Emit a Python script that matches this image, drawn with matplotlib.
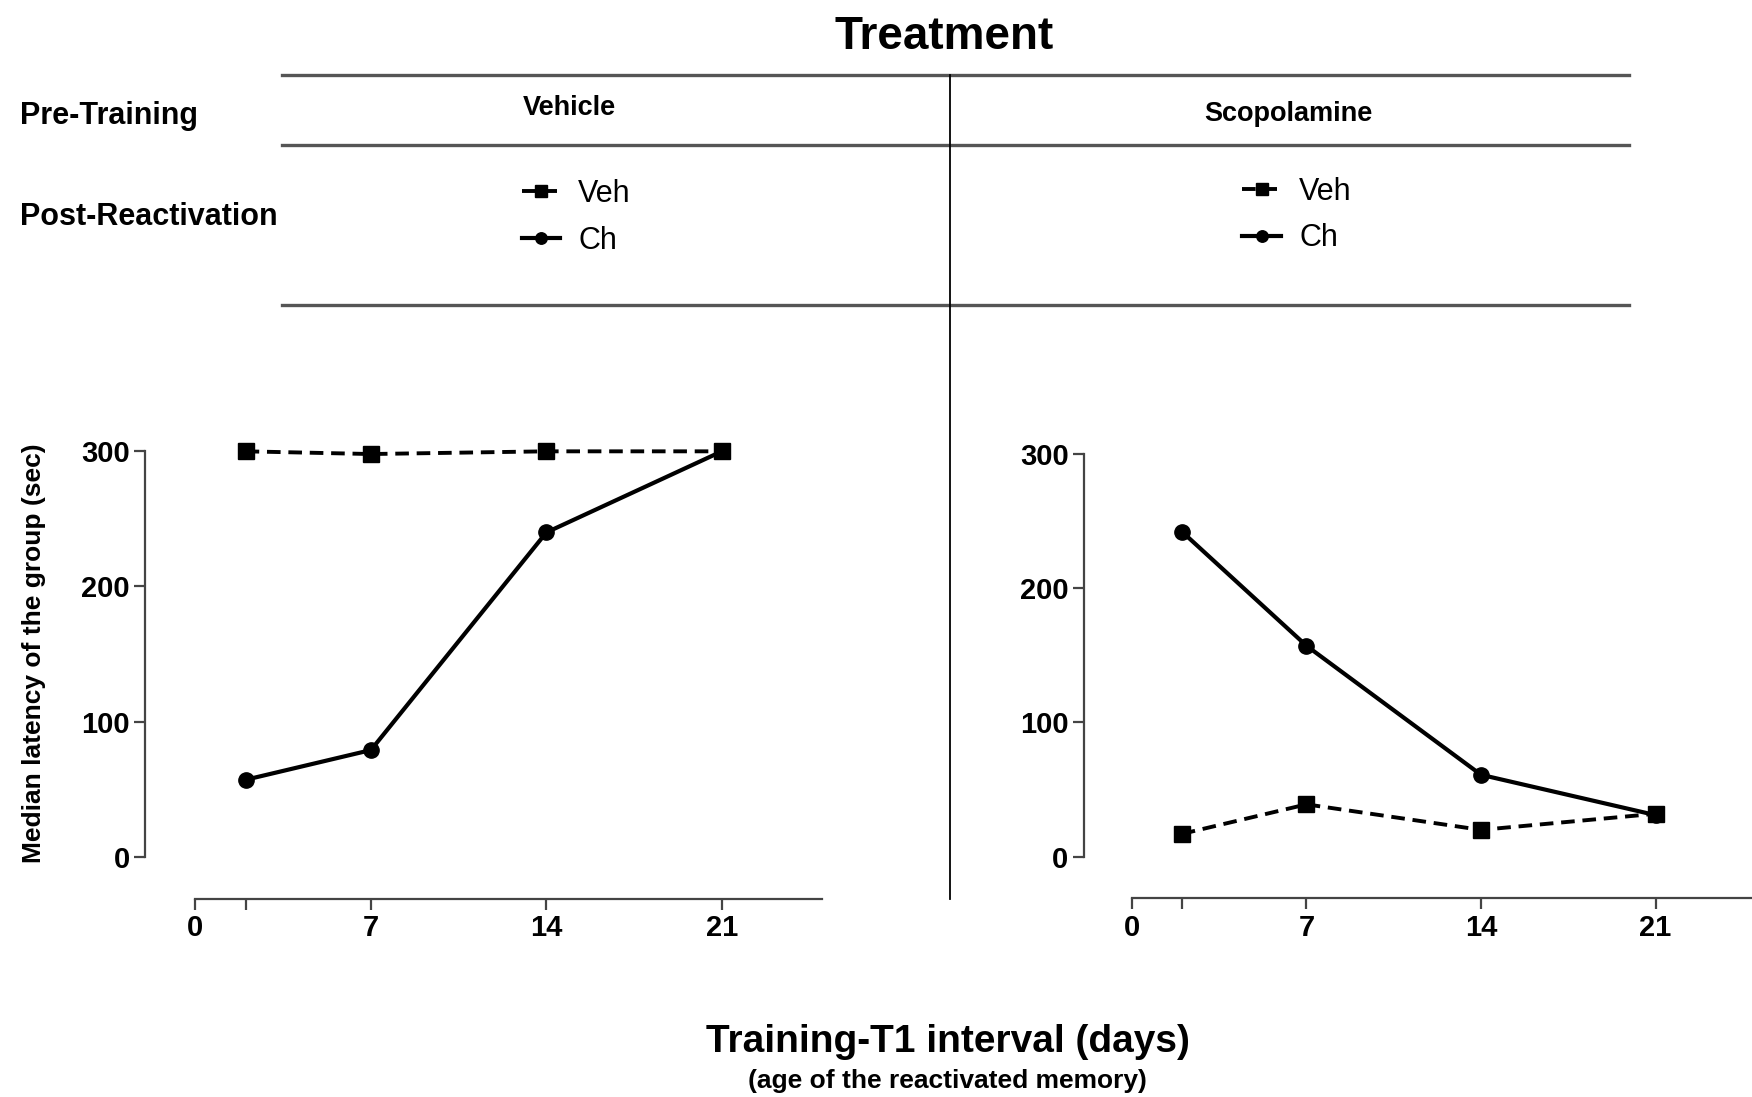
import matplotlib
matplotlib.use("Agg")
import matplotlib.pyplot as plt
from matplotlib.font_manager import fontManager

# data
days = [2, 7, 14, 21]
veh_vehicle = [300, 298, 300, 300]
ch_vehicle = [57, 79, 240, 300]
veh_scop = [17, 39, 20, 32]
ch_scop = [242, 157, 61, 31]

xticks = [0, 2, 7, 14, 21]
xticklabels = ['0', '', '7', '14', '21']
yticks = [0, 100, 200, 300]

names = {f.name for f in fontManager.ttflist}
fam = 'Liberation Sans Narrow' if 'Liberation Sans Narrow' in names else 'Liberation Sans'
plt.rcParams['font.family'] = [fam, 'DejaVu Sans']

fig = plt.figure(figsize=(17.52, 10.97), dpi=100)

W, H = 1568.0, 982.0  # coordinates measured on the shrunk reference


def fx(px):
    return px / W


def fy(py):
    return 1 - py / H


def make_panel(rect, veh, ch, spine_x):
    ax = fig.add_axes(rect)
    l1, = ax.plot(days, veh, color='black', lw=2.8, ls=(0, (3.5, 2)),
                  marker='s', ms=12, label='Veh')
    l2, = ax.plot(days, ch, color='black', lw=3.0, ls='-',
                  marker='o', ms=11, label='Ch')
    ax.set_xlim(-2.5, 25.5)
    ax.set_ylim(-35, 310)
    for s in ['top', 'right']:
        ax.spines[s].set_visible(False)
    ax.spines['left'].set_position(('data', spine_x))
    ax.spines['left'].set_bounds(0, 300)
    ax.spines['bottom'].set_position(('data', -31))
    ax.spines['bottom'].set_bounds(0, 25)
    for s in ['left', 'bottom']:
        ax.spines[s].set_linewidth(1.6)
        ax.spines[s].set_color('#444444')
    ax.set_xticks(xticks)
    ax.set_xticklabels(xticklabels)
    ax.set_yticks(yticks)
    ax.tick_params(length=8, width=1.6, color='#444444', labelsize=21, pad=3)
    for t in ax.get_xticklabels() + ax.get_yticklabels():
        t.set_fontweight('bold')
    return ax, l1, l2


axL, a1, a2 = make_panel([0.0758, 0.1758, 0.4006, 0.4251], veh_vehicle, ch_vehicle, -2.0)
axR, b1, b2 = make_panel([0.6105, 0.1761, 0.3985, 0.4227], veh_scop, ch_scop, -1.93)

fig.text(fx(30), fy(585), 'Median latency of the group (sec)', fontsize=19, fontweight='bold',
         rotation=90, ha='center', va='center')

# header table lines
for py in [67, 130, 273]:
    fig.add_artist(plt.Line2D([fx(252), fx(1458)], [fy(py), fy(py)],
                              color='#555555', lw=2.4, transform=fig.transFigure))
fig.add_artist(plt.Line2D([fx(850), fx(850)], [fy(67), fy(805)],
                          color='black', lw=1.3, transform=fig.transFigure))

fig.text(fx(845), fy(33), 'Treatment', fontsize=33, fontweight='bold', ha='center', va='center')
fig.text(fx(18), fy(104), 'Pre-Training', fontsize=22, fontweight='bold', ha='left', va='center')
fig.text(fx(18), fy(194), 'Post-Reactivation', fontsize=22, fontweight='bold', ha='left', va='center')
fig.text(fx(510), fy(97), 'Vehicle', fontsize=19.5, fontweight='bold', ha='center', va='center')
fig.text(fx(1153), fy(102), 'Scopolamine', fontsize=19.5, fontweight='bold', ha='center', va='center')

for handles, x0, y0 in [((a1, a2), 467, 160), ((b1, b2), 1112, 158)]:
    fig.legend(handles, ['Veh', 'Ch'], loc='upper left', bbox_to_anchor=(fx(x0), fy(y0)),
               bbox_transform=fig.transFigure, frameon=False, fontsize=22,
               handlelength=1.25, handletextpad=0.6, labelspacing=0.55,
               borderpad=0, borderaxespad=0, markerscale=0.75)

fig.text(fx(848), fy(933), 'Training-T1 interval (days)', fontsize=28, fontweight='bold',
         ha='center', va='center')
fig.text(fx(848), fy(968), '(age of the reactivated memory)', fontsize=19, fontweight='bold',
         ha='center', va='center')

fig.savefig('out.png', dpi=100)
